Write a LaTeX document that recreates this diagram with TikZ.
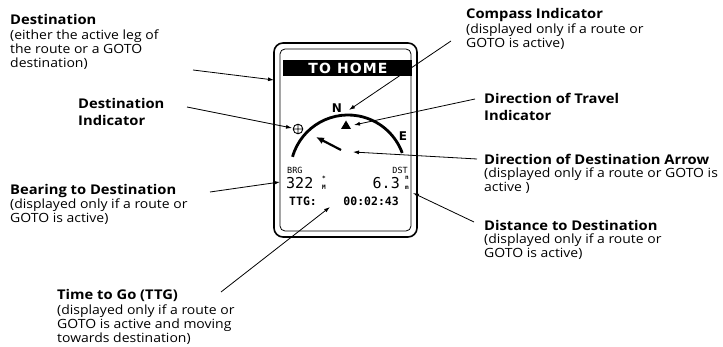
\documentclass[tikz,border=0pt]{standalone}
\usepackage{fontspec}
\setmainfont{Open Sans}[FakeStretch=1.1]
\newfontfamily\lcdfont{DejaVu Sans Mono}
\newfontfamily\dispfont{DejaVu Sans}
\usetikzlibrary{arrows.meta}
\begin{document}
\begin{tikzpicture}[x=1pt,y=-1pt,
  hd/.style={anchor=north west,inner sep=0pt,align=left,font=\fontsize{13.4}{17}\selectfont\bfseries},
  bd/.style={anchor=north west,inner sep=0pt,align=left,font=\fontsize{12.7}{13.6}\selectfont},
  lead/.style={line width=0.8pt,-{Latex[length=6pt,width=4pt]}},
  lcd/.style={inner sep=0pt,font=\lcdfont\fontsize{11}{12}\selectfont},
  lcdsmall/.style={inner sep=0pt,font=\lcdfont\fontsize{8.5}{9}\selectfont},
  units/.style={inner sep=0pt,align=center,font=\lcdfont\bfseries\fontsize{6}{9.5}\selectfont},
  disp/.style={inner sep=0pt,font=\dispfont\bfseries\fontsize{12}{14}\selectfont}]
\useasboundingbox (0,0) rectangle (723,347);

% ---------- device ----------
\draw[line width=1.6pt, rounded corners=9pt] (274,43) rectangle (417,237);
\draw[line width=0.8pt, rounded corners=5pt] (280,49) rectangle (411,231);
\fill (283,60) rectangle (412,76);
\node[inner sep=0pt, text=white, font=\dispfont\bfseries\fontsize{14}{16}\selectfont\addfontfeature{LetterSpace=8}] (title) at (348,68.5) {TO HOME};

\draw[line width=2.8pt] (348,172.7) ++(-164:57.7) arc[start angle=-164, end angle=-20, radius=57.7];
\node[disp] (north) at (337,108) {N};
\node[disp] (east) at (403,136) {E};
\fill (346,120.5) -- (341,129) -- (351,129) -- cycle;
\draw[line width=0.9pt] (298,129) circle (4.8) (293.2,129) -- (302.8,129) (298,124.2) -- (298,133.8);
\draw[line width=2.2pt, -{Latex[length=8pt,width=7pt]}] (341,150) -- (316,137);

\node[lcdsmall, anchor=west] (brg) at (287,170.5) {BRG};
\node[lcd, anchor=west, font=\lcdfont\fontsize{15}{16}\selectfont] (brgval) at (286,183) {322};
\node[units] (brgunit) at (324,183) {*\\M};
\node[lcdsmall, anchor=east] (dst) at (408,170.5) {DST};
\node[lcd, anchor=east, font=\lcdfont\fontsize{15}{16}\selectfont] (dstval) at (400,183) {6.3};
\node[units] (dstunit) at (407,183) {n\\m};
\node[lcd, anchor=west, font=\lcdfont\bfseries\fontsize{11.5}{12}\selectfont] (ttg) at (289,201) {TTG:};
\node[lcd, anchor=east, font=\lcdfont\bfseries\fontsize{11.5}{12}\selectfont] (ttgval) at (399,201) {00:02:43};

% ---------- tips and starts ----------
\coordinate (tDest) at (274,80);
\coordinate (tComp) at (349,110);
\coordinate (tTrav) at (354,125);
\coordinate (tDI)   at (292,128);
\coordinate (tDDA)  at (353,152);
\coordinate (tBrg)  at (280,182);
\coordinate (tDst)  at (413,193);
\coordinate (tTTG)  at (330,207);

\coordinate (sDest) at (193,70);
\coordinate (sComp) at (451,41);
\coordinate (sTrav) at (475,99);
\coordinate (sDI)   at (187,107);
\coordinate (sDDA)  at (477,159);
\coordinate (sBrg)  at (210,192);
\coordinate (sDst)  at (474,222);
\coordinate (sTTG)  at (221,292);

% ---------- labels ----------
\node[hd] (destH) at (10,14.6) {Destination};
\node[bd] (destB) at (10,30) {(either the active leg of\\the route or a GOTO\\destination)};

\node[hd] (compH) at (466,8.6) {Compass Indicator};
\node[bd] (compB) at (466,24) {(displayed only if a route or\\GOTO is active)};

\node[hd] (travH) at (484,92.6) {Direction of Travel\\Indicator};

\node[hd] (diH) at (78,98.6) {Destination\\Indicator};

\node[hd] (ddaH) at (484,153.6) {Direction of Destination Arrow};
\node[bd] (ddaB) at (484,168) {(displayed only if a route or GOTO is\\active )};

\node[hd] (brgH) at (10,184.6) {Bearing to Destination};
\node[bd] (brgB) at (10,199) {(displayed only if a route or\\GOTO is active)};

\node[hd] (dstH) at (484,220.6) {Distance to Destination};
\node[bd] (dstB) at (484,234) {(displayed only if a route or\\GOTO is active)};

\node[hd] (ttgH) at (57,289.6) {Time to Go (TTG)};
\node[bd] (ttgB) at (57,305) {(displayed only if a route or\\GOTO is active and moving\\towards destination)};

% ---------- leaders ----------
\draw[lead] (sDest) -- (tDest);
\draw[lead] (sComp) -- (tComp);
\draw[lead] (sTrav) -- (tTrav);
\draw[lead] (sDI) -- (tDI);
\draw[lead] (sDDA) -- (tDDA);
\draw[lead] (sBrg) -- (tBrg);
\draw[lead] (sDst) -- (tDst);
\draw[lead] (sTTG) -- (tTTG);
\end{tikzpicture}
\end{document}
